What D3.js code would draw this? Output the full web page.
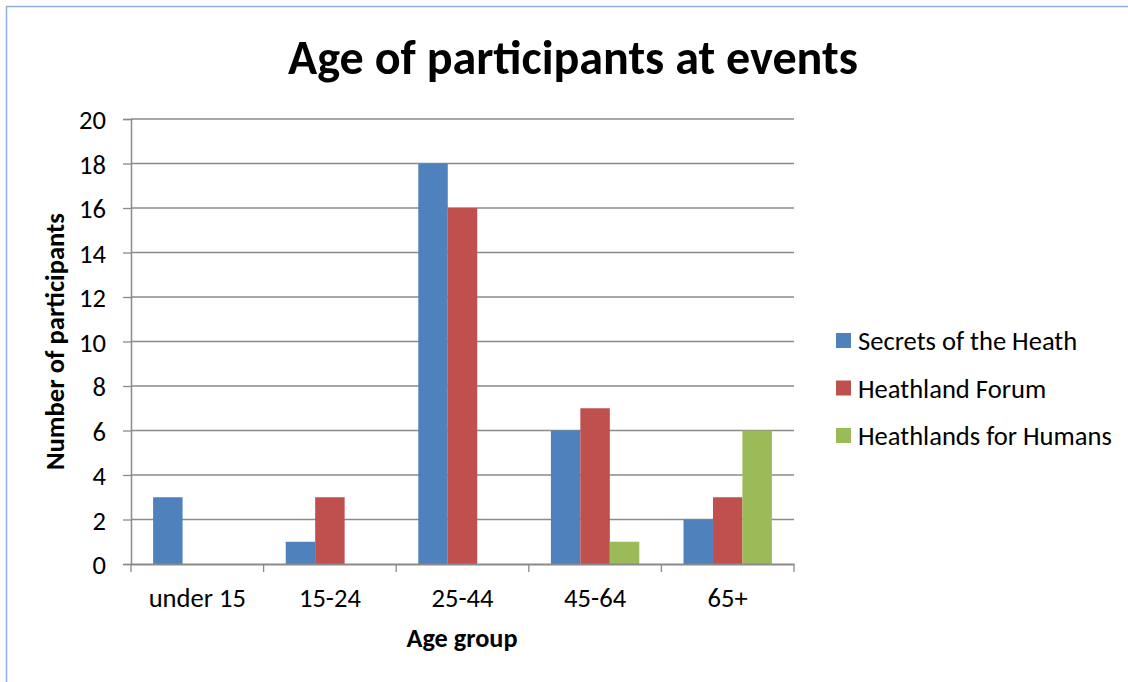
<!DOCTYPE html>
<html>
<head>
<meta charset="utf-8">
<script src="https://cdn.jsdelivr.net/npm/d3@7"></script>
<style>
  html, body { margin: 0; padding: 0; background: #fff; }
  svg { display: block; }
  text { font-family: Carlito, Calibri, Lato, "Open Sans", sans-serif; fill: #000; }
</style>
</head>
<body>
<svg id="chart" width="1128" height="682"></svg>
<script>
const categories = ["under 15", "15-24", "25-44", "45-64", "65+"];
const seriesNames = ["Secrets of the Heath", "Heathland Forum", "Heathlands for Humans"];
const secretsOfTheHeath = [3, 1, 18, 6, 2];
const heathlandForum = [0, 3, 16, 7, 3];
const heathlandsForHumans = [0, 0, 0, 1, 6];
const seriesColors = ["#4F81BD", "#C0504D", "#9BBB59"];
const yTicks = [0, 2, 4, 6, 8, 10, 12, 14, 16, 18, 20];
const chartTitle = "Age of participants at events";
const xTitle = "Age group";
const yTitle = "Number of participants";

const seriesValues = [secretsOfTheHeath, heathlandForum, heathlandsForHumans];

const svg = d3.select("#chart");

// outer chart border
svg.append("rect")
  .attr("x", 6.5).attr("y", 6.5)
  .attr("width", 1140).attr("height", 700)
  .attr("fill", "#fff")
  .attr("stroke", "#8DB0DE").attr("stroke-width", 1.5);

const plot = { left: 131, right: 794, top: 119, bottom: 564 };

const x = d3.scaleBand().domain(categories).range([plot.left, plot.right]).paddingInner(0).paddingOuter(0);
const bw = x.bandwidth() / 4.5; // Excel gap width 150%
const xs = d3.scaleBand().domain(d3.range(seriesNames.length))
  .range([0.75 * bw, 0.75 * bw + 3 * bw]);
const y = d3.scaleLinear().domain([0, 20]).range([plot.bottom, plot.top]);

function fit(sel, target) {
  const node = sel.node();
  const w = node.getComputedTextLength();
  const fs = parseFloat(sel.attr("font-size"));
  const nfs = fs * target / w;
  sel.attr("font-size", nfs);
  return nfs;
}

// gridlines
svg.append("g").selectAll("line").data(yTicks.filter(d => d > 0)).join("line")
  .attr("x1", plot.left).attr("x2", plot.right)
  .attr("y1", d => y(d)).attr("y2", d => y(d))
  .attr("stroke", "#8A8A8A").attr("stroke-width", 1.3);

// bars
const groups = svg.append("g").selectAll("g").data(seriesValues).join("g")
  .attr("fill", (d, i) => seriesColors[i]);
groups.each(function (vals, si) {
  d3.select(this).selectAll("rect").data(vals).join("rect")
    .attr("x", (d, i) => x(categories[i]) + xs(si))
    .attr("width", xs.bandwidth())
    .attr("y", d => y(d))
    .attr("height", d => y(0) - y(d));
});

// legend (measure font size first)
const legend = svg.append("g");
const legRows = legend.selectAll("g").data(seriesNames).join("g")
  .attr("transform", (d, i) => `translate(836, ${340.5 + i * 47.5})`);
legRows.append("rect").attr("x", 0).attr("y", -7.5).attr("width", 15).attr("height", 15)
  .attr("fill", (d, i) => seriesColors[i]);
const legTexts = legRows.append("text").attr("x", 22).attr("dy", "0.36em")
  .attr("font-size", 20).text(d => d);
const baseFs = fit(d3.select(legTexts.nodes()[2]), 254);
legTexts.attr("font-size", baseFs);

// y axis
const yAxis = svg.append("g").attr("transform", `translate(${plot.left},0)`)
  .call(d3.axisLeft(y).tickValues(yTicks).tickSize(8).tickPadding(8).tickFormat(d3.format("d")));
yAxis.select(".domain").attr("stroke", "#8A8A8A").attr("stroke-width", 1.5);
yAxis.selectAll(".tick line").attr("stroke", "#8A8A8A").attr("stroke-width", 1.3);
yAxis.selectAll(".tick text").attr("font-size", baseFs).attr("font-family", null).attr("fill", "#000").attr("x", -25).attr("dy", "0.36em");
yAxis.attr("font-family", null).attr("font-size", null);

// x axis
const xAxis = svg.append("g").attr("transform", `translate(0,${plot.bottom})`)
  .call(d3.axisBottom(x).tickSize(0).tickPadding(0));
xAxis.select(".domain").attr("stroke", "#8A8A8A").attr("stroke-width", 2);
xAxis.selectAll(".tick text").attr("font-size", baseFs).attr("fill", "#000").attr("y", 43).attr("dy", 0);
xAxis.attr("font-family", null).attr("font-size", null);
// category boundary ticks
svg.append("g").selectAll("line")
  .data(categories.concat(["__end"]))
  .join("line")
  .attr("x1", (d, i) => i < categories.length ? x(d) : plot.right)
  .attr("x2", (d, i) => i < categories.length ? x(d) : plot.right)
  .attr("y1", plot.bottom).attr("y2", plot.bottom + 8)
  .attr("stroke", "#8A8A8A").attr("stroke-width", 1.3);

// title
const title = svg.append("text").attr("x", 573).attr("y", 74)
  .attr("text-anchor", "middle").attr("font-weight", "bold").attr("font-size", 40)
  .text(chartTitle);
fit(title, 570);

// axis titles
const xt = svg.append("text").attr("x", 462).attr("y", 647)
  .attr("text-anchor", "middle").attr("font-weight", "bold").attr("font-size", 20)
  .text(xTitle);
fit(xt, 111);

const yt = svg.append("text")
  .attr("transform", "translate(64,341.5) rotate(-90)")
  .attr("text-anchor", "middle").attr("font-weight", "bold").attr("font-size", 20)
  .text(yTitle);
fit(yt, 257);
</script>
</body>
</html>
